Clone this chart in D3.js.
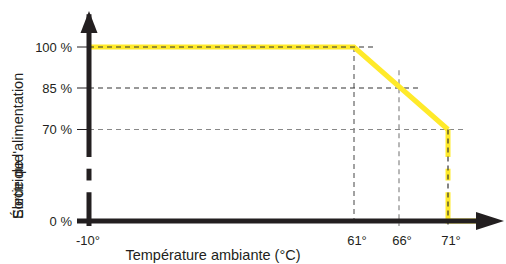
<!DOCTYPE html>
<html><head><meta charset="utf-8">
<script src="https://cdn.jsdelivr.net/npm/d3@7"></script>
<style>body{margin:0;background:#fff}svg{display:block}text{font-family:"Liberation Sans",Arial,sans-serif;fill:#231f20}</style>
</head><body><svg id="c" width="506" height="264"></svg>
<script>
// data
const tempTicks = [-10, 61, 66, 71];
const tempLabels = ["-10°", "61°", "66°", "71°"];
const powerTicks = [0, 70, 85, 100];
const powerLabels = ["0 %", "70 %", "85 %", "100 %"];
const curveTemp = [-10, 61, 71, 71, 74];
const curvePower = [100, 100, 70, 0, 0];
const axisBreaks = [[22, 31], [40, 49]]; // broken y-axis gaps (in %)

const svg = d3.select("#c");
const x = d3.scaleLinear().domain([-10, 61, 66, 71]).range([89, 354, 399, 448]);
const y = d3.scaleLinear().domain([0, 70, 85, 100]).range([221, 129.5, 88, 47]);
const yellow = "#ffea2a", dark = "#231f20";

const g = svg.append("g");
// vertical 61 & 66 grid
g.append("line").attr("x1", x(61)).attr("x2", x(61)).attr("y1", y(100)).attr("y2", y(0)+5)
  .attr("stroke", "#444").attr("stroke-dasharray", "5,4").attr("stroke-width", 1);
g.append("line").attr("x1", x(66)).attr("x2", x(66)).attr("y1", y(91.5)).attr("y2", y(0)+5)
  .attr("stroke", "#888").attr("stroke-dasharray", "5,4").attr("stroke-width", 1.2);
// horizontal 85 & 70 grid
[{p:85, t2:68.2, c:"#333"}, {p:70, t2:72.6, c:"#888"}].forEach(d => {
  g.append("line").attr("x1", x(-10)).attr("x2", x(d.t2)).attr("y1", y(d.p)).attr("y2", y(d.p))
   .attr("stroke", d.c).attr("stroke-dasharray", "5,4").attr("stroke-width", 1.2);
});

// yellow curve, split at axis break gaps on the vertical part
const pts = curveTemp.map((t, i) => [t, curvePower[i]]);
const line = d3.line().x(d => x(d[0])).y(d => y(d[1]));
const segs = [[pts[0], pts[1], pts[2]]];
const vStops = [70].concat(...axisBreaks.slice().reverse().map(b => [b[1], b[0]])).concat([0]);
for (let i = 0; i < vStops.length; i += 2) {
  const seg = [[curveTemp[3], vStops[i]], [curveTemp[3], vStops[i+1]]];
  if (vStops[i+1] === 0) seg.push(pts[4]);
  segs.push(seg);
}
svg.append("g").selectAll("path").data(segs).join("path")
  .attr("d", d => line(d)).attr("fill", "none").attr("stroke", yellow)
  .attr("stroke-width", 5).attr("stroke-linejoin", "miter");
// 100% dashed gridline on top of yellow
svg.append("line").attr("x1", x(-10)).attr("x2", x(63.4)).attr("y1", y(100)).attr("y2", y(100))
  .attr("stroke", "#333").attr("stroke-dasharray", "5,4").attr("stroke-width", 1.2);
// 71 vertical dashed on top
svg.append("line").attr("x1", x(71)).attr("x2", x(71)).attr("y1", y(70)).attr("y2", y(0)+5)
  .attr("stroke", "#333").attr("stroke-dasharray", "5,4").attr("stroke-width", 1.2);

// x axis
svg.append("line").attr("x1", 77).attr("x2", 480).attr("y1", y(0)).attr("y2", y(0))
  .attr("stroke", dark).attr("stroke-width", 5);
svg.append("path").attr("d", `M476,${y(0)-9}L504,${y(0)}L476,${y(0)+9}Z`).attr("fill", dark);
// y axis with breaks
const ySegStops = [0].concat(...axisBreaks.map(b => [b[0], b[1]])).concat([112]);
for (let i = 0; i < ySegStops.length; i += 2) {
  const lo = ySegStops[i] === 0 ? y(0) + 5 : y(ySegStops[i]);
  svg.append("line").attr("x1", x(-10)).attr("x2", x(-10)).attr("y1", lo).attr("y2", y(ySegStops[i+1]))
    .attr("stroke", dark).attr("stroke-width", 5);
}
svg.append("path").attr("d", `M${x(-10)-8.5},33L${x(-10)},11L${x(-10)+8.5},33Z`).attr("fill", dark);

// y ticks
const yt = svg.append("g");
powerTicks.forEach((p, i) => {
  yt.append("line").attr("x1", 77).attr("x2", x(-10)).attr("y1", y(p)).attr("y2", y(p))
    .attr("stroke", dark).attr("stroke-width", 1);
  yt.append("text").attr("x", 72).attr("y", y(p) + 4.5).attr("text-anchor", "end")
    .attr("font-size", 13).text(powerLabels[i]);
});
// x tick labels
tempTicks.forEach((t, i) => {
  svg.append("text").attr("x", x(t) + (i === 0 ? -1 : 3)).attr("y", 245).attr("text-anchor", "middle")
    .attr("font-size", 13).text(tempLabels[i]);
});
// titles
svg.append("text").attr("x", 213).attr("y", 260).attr("text-anchor", "middle")
  .attr("font-size", 14.5).text("Température ambiante (°C)");
const yl = svg.append("g").attr("transform", "translate(23,219) rotate(-90)");
yl.append("text").attr("x", 0).attr("y", 0).attr("font-size", 14.5).text("Sortie de l'alimentation");
yl.append("text").attr("x", 0).attr("y", 0).attr("font-size", 14.5).text("Électrique");
</script></body></html>
